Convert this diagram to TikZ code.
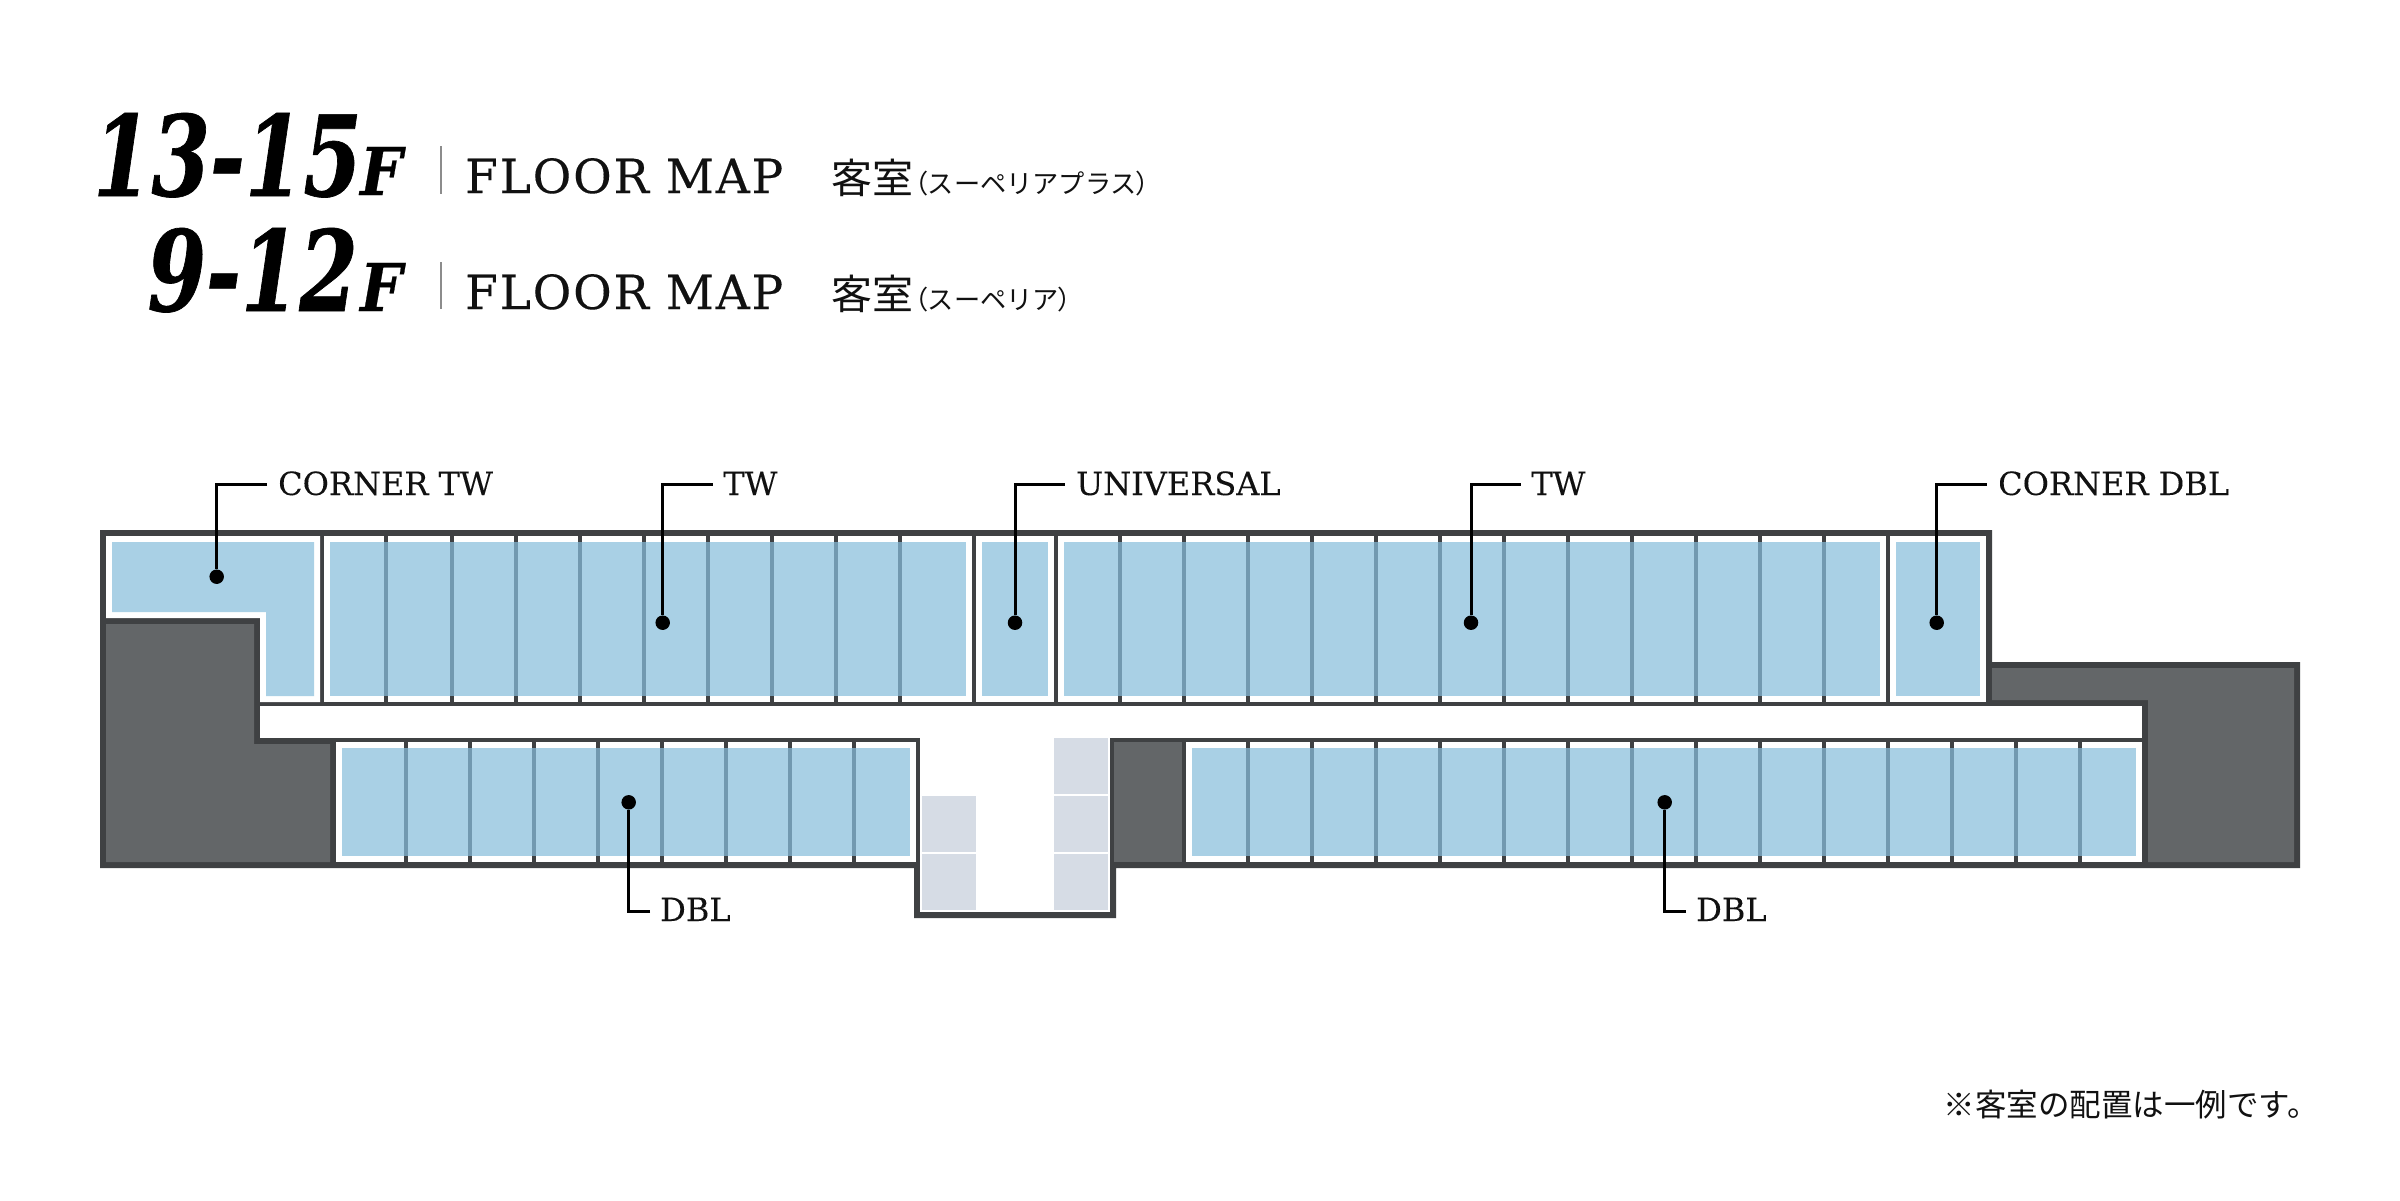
\documentclass[tikz,border=0pt]{standalone}
\usepackage{fontspec}
\setmainfont{Liberation Serif}
\newfontfamily\labelfont[FakeBold=0.12]{DejaVu Serif}
\newfontfamily\mapfont[LetterSpace=4,FakeBold=0.25]{DejaVu Serif}
\newfontfamily\bigfont[FakeStretch=0.75,FakeBold=0.6,BoldItalicFont={DejaVu Serif Bold Italic}]{DejaVu Serif}
\newfontfamily\ffont[FakeStretch=0.9,FakeBold=0.4,BoldItalicFont={DejaVu Serif Bold Italic}]{DejaVu Serif}
\newfontfamily\cjkfont{Noto Sans CJK JP}
\newfontfamily\cjkpalt[RawFeature={+palt}]{Noto Sans CJK JP}
\definecolor{wallc}{HTML}{3F4143}
\definecolor{darkc}{HTML}{636668}
\definecolor{bluec}{HTML}{A9D0E5}
\definecolor{divc}{HTML}{7299B0}
\definecolor{greyc}{HTML}{D6DCE5}
\definecolor{inkc}{HTML}{111111}
\tikzset{
  roomlabel/.style={anchor=base west,inner sep=0pt,text=inkc,font={\labelfont\fontsize{32}{32}\selectfont}},
  bignum/.style={anchor=base east,inner sep=0pt,text=black,font={\bigfont\bfseries\itshape\fontsize{112}{112}\selectfont}},
  bigf/.style={anchor=base west,inner sep=0pt,text=black,font={\ffont\bfseries\itshape\fontsize{66}{66}\selectfont}},
  mapt/.style={anchor=base west,inner sep=0pt,text=inkc,font={\mapfont\fontsize{47}{47}\selectfont}},
  roomjp/.style={anchor=base west,inner sep=0pt,text=inkc,font={\cjkfont\fontsize{41}{41}\selectfont}},
  kana/.style={anchor=base west,inner sep=0pt,text=inkc,font={\cjkfont\fontsize{26.2}{26.2}\selectfont}},
  notejp/.style={anchor=base east,inner sep=0pt,text=inkc,font={\cjkfont\fontsize{31.5}{31.5}\selectfont}},
  pin/.style={circle,fill=black,inner sep=0pt,minimum size=14.5pt},
  leader/.style={draw=black,line width=3pt},
  titlebar/.style={draw=black!45,line width=1.5pt},
}
\newcommand{\dvtop}[1]{\fill[wallc] (#1,536) rectangle ({#1+4},702);}
\newcommand{\dvlow}[1]{\fill[wallc] (#1,742) rectangle ({#1+4},862);}
\begin{document}
\begin{tikzpicture}[x=1pt,y=-1pt]
\useasboundingbox (0,0) rectangle (2400,1200);
\fill[white] (0,0) rectangle (2400,1200);
% footprint
\fill[wallc] (100,530) -- (1992,530) -- (1992,662) -- (2300,662) -- (2300,868) -- (1116,868) -- (1116,918) -- (914,918) -- (914,868) -- (100,868) -- cycle;
% dark service areas
\fill[darkc] (106,624) -- (254,624) -- (254,744) -- (330,744) -- (330,862) -- (106,862) -- cycle;
\fill[darkc] (1114,742) rectangle (1182,862);
\fill[darkc] (1992,668) -- (2294,668) -- (2294,862) -- (2148,862) -- (2148,700) -- (1992,700) -- cycle;
% white interiors
\fill[white] (106,536) -- (320,536) -- (320,702) -- (260,702) -- (260,618) -- (106,618) -- cycle;
\fill[white] (324,536) rectangle (972,702);
\fill[white] (976,536) rectangle (1054,702);
\fill[white] (1058,536) rectangle (1886,702);
\fill[white] (1890,536) rectangle (1986,702);
\fill[white] (260,706) rectangle (2142,738);
\fill[white] (920,738) rectangle (1110,912);
\fill[white] (336,742) rectangle (916,862);
\fill[white] (1186,742) rectangle (2142,862);
% lift/stair cells
\fill[greyc] (922,796) rectangle (976,852);
\fill[greyc] (922,854) rectangle (976,910);
\fill[greyc] (1054,738) rectangle (1108,794);
\fill[greyc] (1054,796) rectangle (1108,852);
\fill[greyc] (1054,854) rectangle (1108,910);
% dividers in wall colour
\foreach \x in {384,450,514,578,642,706,770,834,898,1118,1182,1246,1310,1374,1438,1502,1566,1630,1694,1758,1822} {\dvtop{\x}}
\foreach \x in {404,468,532,596,660,724,788,852,1246,1310,1374,1438,1502,1566,1630,1694,1758,1822,1886,1950,2014,2078} {\dvlow{\x}}
% blue rooms
\fill[bluec] (112,542) -- (314,542) -- (314,696) -- (266,696) -- (266,612) -- (112,612) -- cycle;
\fill[bluec] (330,542) rectangle (966,696);
\fill[bluec] (982,542) rectangle (1048,696);
\fill[bluec] (1064,542) rectangle (1880,696);
\fill[bluec] (1896,542) rectangle (1980,696);
\fill[bluec] (342,748) rectangle (910,856);
\fill[bluec] (1192,748) rectangle (2136,856);
% dividers through the blue
\foreach \x in {384,450,514,578,642,706,770,834,898,1118,1182,1246,1310,1374,1438,1502,1566,1630,1694,1758,1822} {\fill[divc] (\x,542) rectangle ({\x+4},696);}
\foreach \x in {404,468,532,596,660,724,788,852,1246,1310,1374,1438,1502,1566,1630,1694,1758,1822,1886,1950,2014,2078} {\fill[divc] (\x,748) rectangle ({\x+4},856);}
% title
\node[bignum] (n1) at (362,196) {13-15};
\node[bigf] (f1) at (360,195) {F};
\node[bignum] (n2) at (358,311) {9-12};
\node[bigf] (f2) at (360,311) {F};
\draw[titlebar] (441,146) -- (441,194);
\draw[titlebar] (441,262) -- (441,309);
\node[mapt] (m1) at (465,193) {FLOOR MAP};
\node[mapt] (m2) at (465,309) {FLOOR MAP};
\node[roomjp] (r1) at (831,193) {客室};
\node[roomjp] (r2) at (831,309) {客室};
\node[kana] (k1) at (914.5,193) {{\cjkpalt（}スーペリアプラス{\cjkpalt）}};
\node[kana] (k2) at (914.5,309) {{\cjkpalt（}スーペリア{\cjkpalt）}};
\node[notejp] (note) at (2319,1116) {※客室の配置は一例です。};
% room labels and leaders
\node[roomlabel] (l1) at (278,495) {CORNER TW};
\node[roomlabel] (l2) at (723,495) {TW};
\node[roomlabel] (l3) at (1076,495) {UNIVERSAL};
\node[roomlabel] (l4) at (1531,495) {TW};
\node[roomlabel] (l5) at (1998,495) {CORNER DBL};
\node[roomlabel] (l6) at (660,921) {DBL};
\node[roomlabel] (l7) at (1696,921) {DBL};
\node[pin] (d1) at (216.7,576.7) {};
\node[pin] (d2) at (662.7,622.7) {};
\node[pin] (d3) at (1015,622.7) {};
\node[pin] (d4) at (1471,622.7) {};
\node[pin] (d5) at (1936.7,622.7) {};
\node[pin] (d6) at (628.7,802.3) {};
\node[pin] (d7) at (1664.7,802.3) {};
\coordinate (c1) at (267,484);
\coordinate (c2) at (712.7,484);
\coordinate (c3) at (1064.7,484);
\coordinate (c4) at (1520.7,484);
\coordinate (c5) at (1986.7,484);
\coordinate (c6) at (650,911);
\coordinate (c7) at (1686,911);
\draw[leader] (c1) -| (d1);
\draw[leader] (c2) -| (d2);
\draw[leader] (c3) -| (d3);
\draw[leader] (c4) -| (d4);
\draw[leader] (c5) -| (d5);
\draw[leader] (c6) -| (d6);
\draw[leader] (c7) -| (d7);
\end{tikzpicture}
\end{document}
